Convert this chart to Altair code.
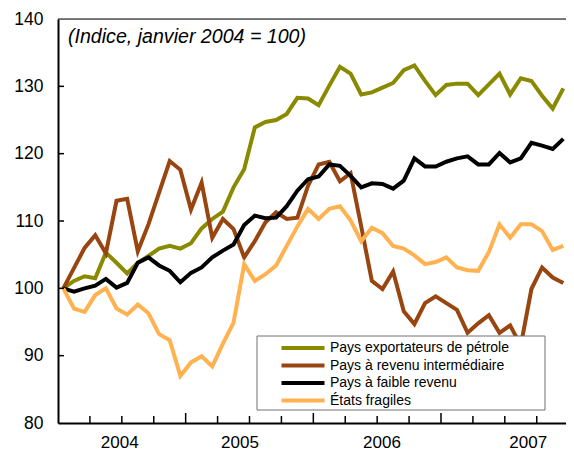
import altair as alt
import pandas as pd

# ---- data (monthly index, Jan 2004 = 100) ----
months = list(range(48))  # Jan 2004 .. Dec 2007
petrole = [100, 101.1, 101.8, 101.5, 105.3, 103.8, 102.2, 103.8, 104.8, 105.9, 106.3, 105.9,
           106.7, 108.9, 110.3, 111.4, 115.0, 117.7, 123.9, 124.7, 125.0, 125.9, 128.3, 128.2,
           127.2, 130.1, 132.9, 131.9, 128.8, 129.1, 129.8, 130.5, 132.4, 133.1, 130.8, 128.7,
           130.2, 130.4, 130.4, 128.7, 130.3, 131.9, 128.8, 131.2, 130.8, 128.6, 126.7, 129.7]
intermediaire = [100, 103.0, 106.0, 107.9, 105.2, 113.0, 113.3, 105.5, 109.5, 114.2, 118.9, 117.6,
                 111.7, 115.7, 107.5, 110.3, 108.8, 104.6, 107.0, 109.8, 111.3, 110.3, 110.5, 115.2,
                 118.4, 118.8, 115.9, 117.1, 109.2, 101.1, 99.9, 102.5, 96.6, 94.7, 97.8, 98.8,
                 97.8, 96.8, 93.4, 94.8, 96.0, 93.4, 94.5, 91.5, 99.9, 103.1, 101.6, 100.8]
faible = [100, 99.5, 100.0, 100.4, 101.4, 100.1, 100.8, 103.8, 104.6, 103.4, 102.6, 100.9,
          102.3, 103.1, 104.6, 105.6, 106.5, 109.4, 110.8, 110.4, 110.5, 112.2, 114.5, 116.2,
          116.6, 118.4, 118.2, 116.7, 115.0, 115.6, 115.5, 114.8, 116.0, 119.3, 118.1, 118.1,
          118.8, 119.3, 119.6, 118.4, 118.4, 120.1, 118.7, 119.3, 121.6, 121.2, 120.7, 122.2]
fragiles = [100, 97.0, 96.5, 99.0, 100.0, 97.0, 96.1, 97.6, 96.3, 93.2, 92.3, 87.0,
            89.0, 89.9, 88.4, 91.8, 94.9, 103.6, 101.1, 102.1, 103.4, 106.3, 109.2, 111.8,
            110.3, 111.8, 112.2, 110.1, 107.0, 109.0, 108.2, 106.3, 105.9, 104.9, 103.6, 103.9,
            104.6, 103.1, 102.7, 102.6, 105.4, 109.5, 107.5, 109.5, 109.5, 108.5, 105.7, 106.3]

series_names = ["Pays exportateurs de pétrole", "Pays à revenu intermédiaire",
                "Pays à faible revenu", "États fragiles"]
series_values = [petrole, intermediaire, faible, fragiles]
colors = ["#8a8a00", "#984510", "#000000", "#ffb24f"]

year_labels = ["2004", "2005", "2006", "2007"]
year_label_pos = [5.3, 16.6, 29.95, 43.7]
quarter_ticks = [2.5, 5.5, 8.5, 14.5, 17.5, 20.5, 26.5, 29.5, 32.5, 38.5, 41.5, 44.5]
year_ticks = [11.5, 23.5, 35.5]
y_tick_values = [90, 100, 110, 120, 130]
y_label_values = [80, 90, 100, 110, 120, 130, 140]
note = "(Indice, janvier 2004 = 100)"

FONT = "Liberation Sans"
W, H = 508, 404

rows = []
for name, vals in zip(series_names, series_values):
    for m, v in zip(months, vals):
        rows.append({"month": m, "value": v, "series": name})
df = pd.DataFrame(rows)

xscale = alt.Scale(domain=[-0.5, 47.25], nice=False, zero=False)
yscale = alt.Scale(domain=[80, 140], nice=False, zero=False)
xaxis = alt.Axis(labels=False, ticks=False, grid=False, title=None,
                 domainColor="black", domainWidth=2)
yaxis = alt.Axis(values=y_label_values, ticks=False, tickSize=0, grid=False, title=None,
                 domainColor="black", domainWidth=2, labelFontSize=17.5,
                 labelColor="black", labelPadding=15, labelFont=FONT)

lines = alt.Chart(df).mark_line(strokeWidth=4).encode(
    x=alt.X("month:Q", scale=xscale, axis=xaxis),
    y=alt.Y("value:Q", scale=yscale, axis=yaxis),
    color=alt.Color("series:N", scale=alt.Scale(domain=series_names, range=colors),
                    legend=alt.Legend(orient="none", legendX=199, legendY=316, title=None,
                                      symbolType="M-4.3,0H4.3", symbolSize=100,
                                      symbolStrokeWidth=4, symbolOffset=33,
                                      labelFontSize=14, labelFont=FONT,
                                      labelColor="black", labelLimit=400,
                                      padding=6, rowPadding=1.5, labelOffset=20)),
    detail="series:N",
)

legend_box = alt.Chart(pd.DataFrame({"a": [0]})).mark_rect(
    fill="white", stroke="#707070", strokeWidth=1).encode(
    x=alt.value(199), x2=alt.value(487), y=alt.value(317), y2=alt.value(391))

top_border = alt.Chart(pd.DataFrame({"a": [0]})).mark_rule(color="black", strokeWidth=1).encode(
    x=alt.value(0), x2=alt.value(W), y=alt.value(0))

qt = alt.Chart(pd.DataFrame({"t": quarter_ticks})).mark_rule(color="black", strokeWidth=1.5).encode(
    x=alt.X("t:Q", scale=xscale, axis=xaxis), y=alt.value(H), y2=alt.value(H - 7))
yt = alt.Chart(pd.DataFrame({"t": year_ticks})).mark_rule(color="black", strokeWidth=1.5).encode(
    x=alt.X("t:Q", scale=xscale, axis=xaxis), y=alt.value(H), y2=alt.value(H - 10))
ytk = alt.Chart(pd.DataFrame({"v": y_tick_values})).mark_rule(color="black", strokeWidth=1.5).encode(
    y=alt.Y("v:Q", scale=yscale, axis=yaxis), x=alt.value(0), x2=alt.value(6))

years = alt.Chart(pd.DataFrame({"pos": year_label_pos, "year": year_labels})).mark_text(
    fontSize=17, font=FONT, color="black", baseline="middle").encode(
    x=alt.X("pos:Q", scale=xscale, axis=xaxis), y=alt.value(H + 20), text="year:N")

title = alt.Chart(pd.DataFrame({"t": [note]})).mark_text(
    fontSize=19.6, font=FONT, fontStyle="italic", color="black", align="left",
    baseline="middle").encode(x=alt.value(10), y=alt.value(18), text="t:N")

chart = alt.layer(lines, legend_box, top_border, qt, yt, ytk, years, title).properties(
    width=W, height=H, autosize="none",
    padding={"left": 50, "top": 11, "right": 0, "bottom": 30},
).configure_view(stroke=None).configure(font=FONT)

chart.save("out.html", embed_options={"renderer": "svg", "actions": False})
